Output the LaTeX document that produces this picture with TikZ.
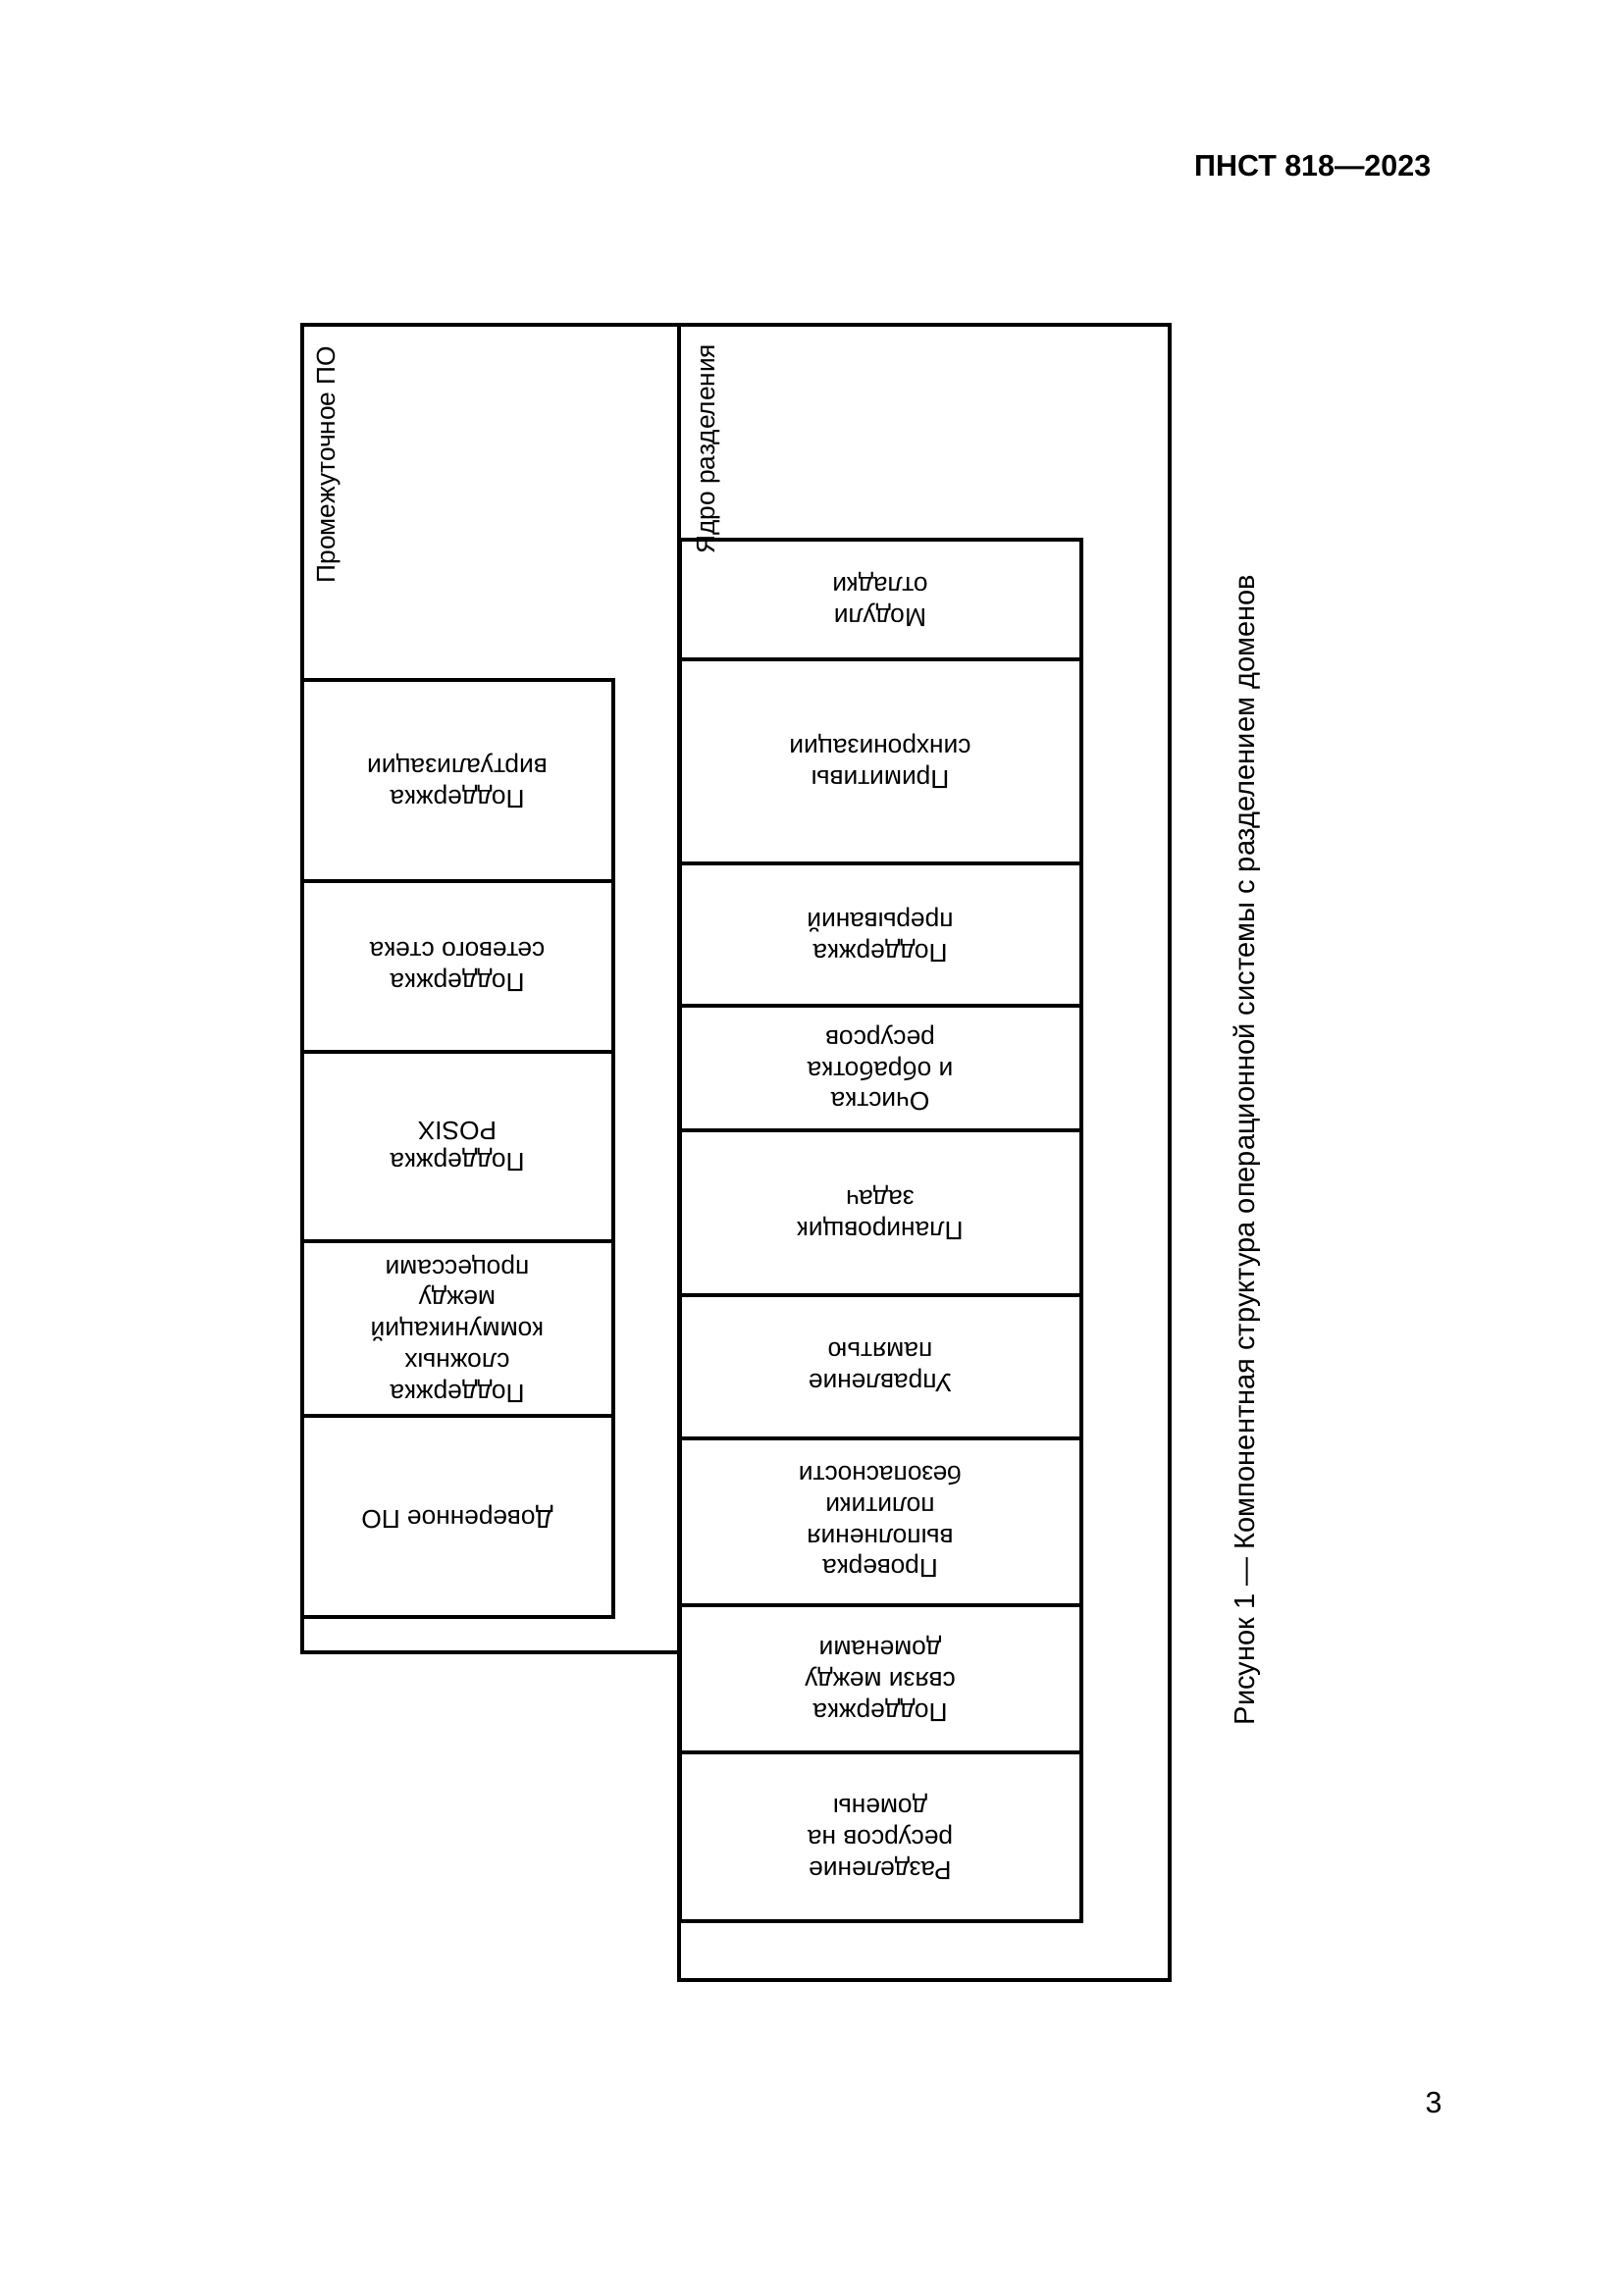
\documentclass[tikz,border=0pt]{standalone}
\usepackage{fontspec}
\setmainfont{Liberation Sans}
\begin{document}
\begin{tikzpicture}[x=0.127mm,y=-0.127mm,
  frame/.style={draw,line width=1.3pt},
  lbl/.style={rotate=180,align=center,font=\fontsize{9.5}{11.5}\selectfont},
  side/.style={rotate=90,font=\fontsize{9.5}{11.5}\selectfont}]
\useasboundingbox (0,0) rectangle (1654,2339);
\node[anchor=east,font=\bfseries\fontsize{11}{13}\selectfont] (hdr) at (1468,169) {ПНСТ 818—2023};
\node[font=\fontsize{11}{13}\selectfont] (pg) at (1461,2143) {3};
% outer boxes
\draw[frame] (308,331) rectangle (692,1684);
\draw[frame] (692,331) rectangle (1192,2018);
\node[side,anchor=east] (lp) at (335,343) {Промежуточное ПО};
\node[side,anchor=east] (lk) at (722,341) {Ядро разделения};
% left column
\foreach \a/\b/\t [count=\i] in {693/898/{Поддержка\\виртуализации},898/1072/{Поддержка\\сетевого стека},1072/1265/{Поддержка\\POSIX},1265/1443/{Поддержка\\сложных\\коммуникаций\\между\\процессами},1443/1648/{Доверенное ПО}}{
  \draw[frame] (308,\a) rectangle (625,\b);
  \node[lbl] (l\i) at (466,{(\a+\b)/2}) {\t};
}
% right column
\foreach \a/\b/\t [count=\i] in {550/672/{Модули\\отладки},672/880/{Примитивы\\синхронизации},880/1025/{Поддержка\\прерываний},1025/1152/{Очистка\\и обработка\\ресурсов},1152/1320/{Планировщик\\задач},1320/1466/{Управление\\памятью},1466/1636/{Проверка\\выполнения\\политики\\безопасности},1636/1786/{Поддержка\\связи между\\доменами},1786/1958/{Разделение\\ресурсов на\\домены}}{
  \draw[frame] (693,\a) rectangle (1102,\b);
  \node[lbl] (r\i) at (897,{(\a+\b)/2}) {\t};
}
\node[side,font=\fontsize{10.5}{12}\selectfont] (cap) at (1271,1172) {Рисунок 1 — Компонентная структура операционной системы с разделением доменов};
\end{tikzpicture}
\end{document}
